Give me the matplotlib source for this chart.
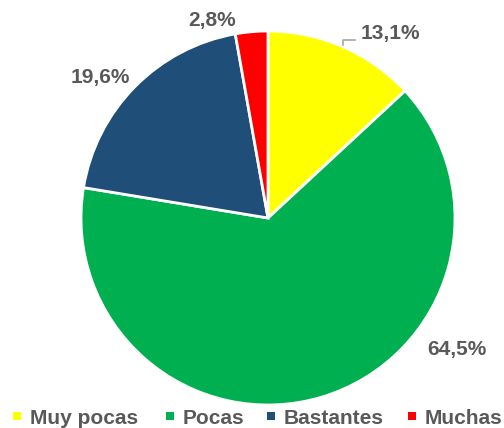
import matplotlib
matplotlib.use("Agg")
import matplotlib.pyplot as plt
from matplotlib.patches import Rectangle

labels = ["Muy pocas", "Pocas", "Bastantes", "Muchas"]
values = [13.1, 64.5, 19.6, 2.8]
colors = ["#FFFF00", "#00B050", "#1F4E79", "#FF0000"]
pct_text = ["13,1%", "64,5%", "19,6%", "2,8%"]

plt.rcParams['font.family'] = ['Liberation Sans', 'DejaVu Sans']
txt_color = "#595959"

fig = plt.figure(figsize=(5.04, 4.28), dpi=100)
ax = fig.add_axes([0, 0, 1, 1])

# pie in pixel space, center (268, 210) radius 187
wedges, _ = ax.pie(values, colors=colors, startangle=90, counterclock=False,
                   center=(268, 210), radius=187,
                   wedgeprops=dict(edgecolor='white', linewidth=2))
ax.set_xlim(0, 504)
ax.set_ylim(0, 428)
ax.set_aspect('equal')
ax.axis('off')

# data labels (pixels, y up)
label_pos = [(390, 395), (457, 78), (100, 351), (212, 408)]
for (x, y), t in zip(label_pos, pct_text):
    ax.text(x, y, t, ha='center', va='center', fontsize=15,
            fontweight='bold', color=txt_color)

# leader line for the first label
ax.plot([343, 343, 355], [383, 388, 388], color="#A6A6A6", lw=1.2)

# legend along the bottom
leg_x = [13, 166, 267, 408]
for x, lab, c in zip(leg_x, labels, colors):
    ax.add_patch(Rectangle((x, 8), 8, 8, facecolor=c, edgecolor='none'))
    ax.text(x + 17, 4, lab, ha='left', va='baseline', fontsize=15,
            fontweight='bold', color=txt_color)

fig.savefig("out.png", dpi=100)
